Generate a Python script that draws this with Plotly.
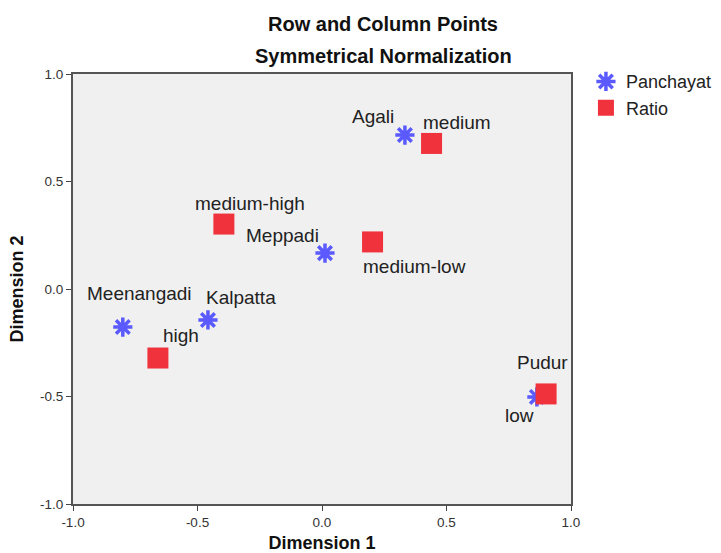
import plotly.graph_objects as go

# Row points (Panchayat)
panch_names = ["Agali", "Meppadi", "Kalpatta", "Meenangadi", "Pudur"]
panch_x = [0.333, 0.012, -0.458, -0.80, 0.863]
panch_y = [0.716, 0.167, -0.144, -0.177, -0.502]

# Column points (Ratio)
ratio_names = ["medium", "medium-high", "medium-low", "high", "low"]
ratio_x = [0.44, -0.394, 0.203, -0.659, 0.90]
ratio_y = [0.677, 0.302, 0.219, -0.321, -0.488]

tick_vals = [-1.0, -0.5, 0.0, 0.5, 1.0]
tick_text = ["-1.0", "-0.5", "0.0", "0.5", "1.0"]

# label pixel offsets (style)
panch_off = {"Agali": (-32, 19), "Meppadi": (-42, 18), "Kalpatta": (33, 22),
             "Meenangadi": (17, 34), "Pudur": (6, 34)}
ratio_off = {"medium": (25, 21), "medium-high": (26, 21), "medium-low": (42, -25),
             "high": (23, 23), "low": (-27, -22)}

FONT = "Liberation Sans, Arial, sans-serif"
BLUE = "#5a5aff"
RED = "#f0323c"
LBL = 19

fig = go.Figure()
fig.add_trace(go.Scatter(x=panch_x, y=panch_y, mode="markers", name="Panchayat",
                         marker=dict(symbol="asterisk", size=16, color=BLUE,
                                     line=dict(color=BLUE, width=3.5))))
fig.add_trace(go.Scatter(x=ratio_x, y=ratio_y, mode="markers", name="Ratio",
                         marker=dict(symbol="square", size=21, color=RED,
                                     line=dict(width=0))))

for n, x, y in zip(panch_names, panch_x, panch_y):
    dx, dy = panch_off[n]
    fig.add_annotation(x=x, y=y, text=n, showarrow=False, xshift=dx, yshift=dy,
                       font=dict(family=FONT, size=LBL, color="#222222"))
for n, x, y in zip(ratio_names, ratio_x, ratio_y):
    dx, dy = ratio_off[n]
    fig.add_annotation(x=x, y=y, text=n, showarrow=False, xshift=dx, yshift=dy,
                       font=dict(family=FONT, size=LBL, color="#222222"))

fig.add_annotation(xref="paper", yref="paper", x=0.623, y=1.0, yshift=50,
                   yanchor="middle", xanchor="center",
                   text="<b>Row and Column Points</b>", showarrow=False,
                   font=dict(family=FONT, size=20, color="#111111"))
fig.add_annotation(xref="paper", yref="paper", x=0.623, y=1.0, yshift=18,
                   yanchor="middle", xanchor="center",
                   text="<b>Symmetrical Normalization</b>", showarrow=False,
                   font=dict(family=FONT, size=20, color="#111111"))

axis_common = dict(range=[-1.0, 1.0], tickvals=tick_vals, ticktext=tick_text,
                   showgrid=False, zeroline=False, ticks="outside", ticklen=5,
                   tickcolor="#444444", showline=True, linecolor="#555555",
                   linewidth=2, mirror=True, automargin=False,
                   tickfont=dict(family=FONT, size=13.5, color="#333333"))

fig.update_layout(
    width=721, height=553,
    margin=dict(l=73, r=150, t=74, b=49, autoexpand=False),
    paper_bgcolor="white", plot_bgcolor="#f0f0f0",
    xaxis=dict(**axis_common, title=dict(text="<b>Dimension 1</b>", standoff=10,
                                         font=dict(family=FONT, size=18, color="#111111"))),
    yaxis=dict(**axis_common, title=dict(text="<b>Dimension 2</b>", standoff=12,
                                         font=dict(family=FONT, size=18, color="#111111"))),
    legend=dict(x=1.03, xanchor="left", y=1.025, yanchor="top", xref="paper",
                font=dict(family=FONT, size=18, color="#222222"),
                bgcolor="rgba(0,0,0,0)", tracegroupgap=0, itemwidth=30),
    showlegend=True,
)

fig.write_html("out.html")
